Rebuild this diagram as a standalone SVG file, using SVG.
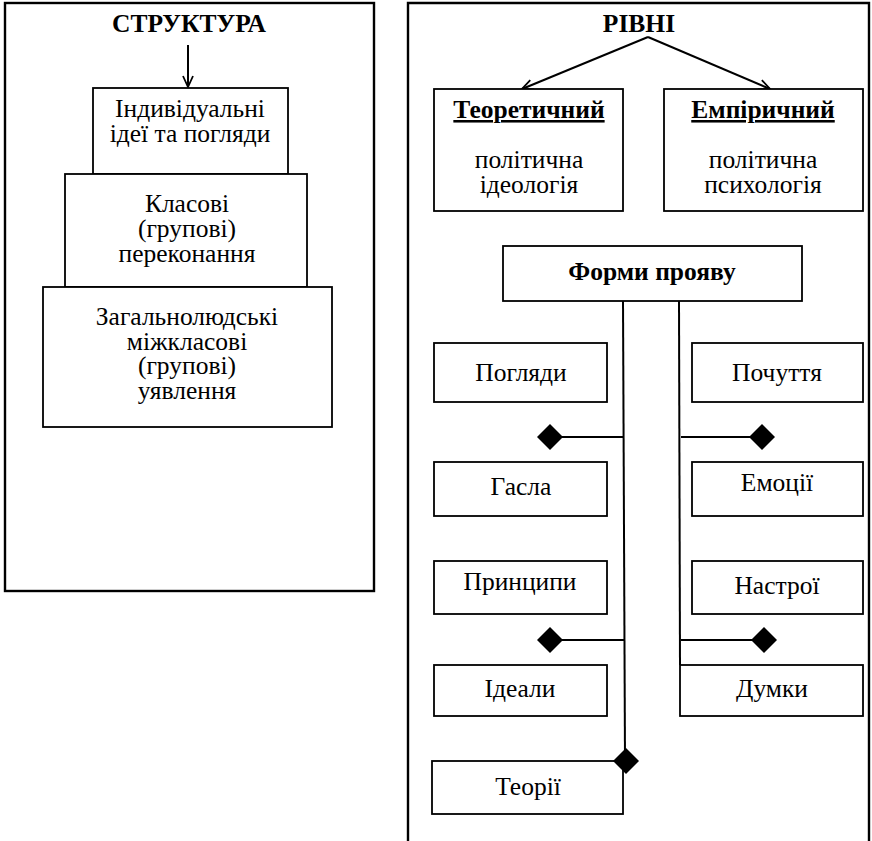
<svg xmlns="http://www.w3.org/2000/svg" width="872" height="841" viewBox="0 0 872 841">
<style>
.frame{fill:none;stroke:#000;stroke-width:2.4}
.box{fill:#fff;stroke:#000;stroke-width:1.8}
.ln{fill:none;stroke:#000;stroke-width:2}
.dia{fill:#000}
.bold{font-weight:bold}
</style>
<defs>
<marker id="arr" markerUnits="userSpaceOnUse" markerWidth="14" markerHeight="12" refX="12" refY="6" orient="auto">
<path d="M1,1 L12,6 L1,11" fill="none" stroke="#000" stroke-width="1.8"/>
</marker>
</defs>
<rect fill="#fff" x="0" y="0" width="872" height="841"/>

<g font-family="Liberation Serif, serif" font-size="25.5" text-anchor="middle" fill="#000">
<g id="frame-left">
<rect class="frame" x="5" y="3" width="369" height="588"/>
<text class="bold" x="189" y="32">СТРУКТУРА</text>
</g>
<g id="frame-right">
<path class="frame" d="M408,841 L408,3 L869,3 L869,841"/>
<text class="bold" x="639" y="32">РІВНІ</text>
</g>

<g id="connectors">
<line class="ln" x1="188" y1="45" x2="188" y2="87" marker-end="url(#arr)"/>
<line class="ln" x1="648" y1="37" x2="522" y2="89" marker-end="url(#arr)"/>
<line class="ln" x1="648" y1="37" x2="770" y2="89" marker-end="url(#arr)"/>
<line class="ln" x1="623" y1="301" x2="625" y2="761"/>
<line class="ln" x1="679" y1="301" x2="680" y2="665"/>
<line class="ln" x1="550" y1="437" x2="623" y2="437"/>
<line class="ln" x1="681" y1="437" x2="762" y2="437"/>
<line class="ln" x1="550" y1="640" x2="624" y2="640"/>
<line class="ln" x1="681" y1="640" x2="764" y2="640"/>
<path class="dia" d="M550,424 L563,437 L550,450 L537,437 Z"/>
<path class="dia" d="M762,424 L775,437 L762,450 L749,437 Z"/>
<path class="dia" d="M550,627 L563,640 L550,653 L537,640 Z"/>
<path class="dia" d="M764,627 L777,640 L764,653 L751,640 Z"/>
</g>

<g id="box-individual">
<rect class="box" x="93" y="88" width="195" height="86"/>
<text><tspan x="190" y="117">Індивідуальні</tspan><tspan x="190" y="142">ідеї та погляди</tspan></text>
</g>
<g id="box-class">
<rect class="box" x="65" y="174" width="242" height="113"/>
<text><tspan x="187" y="212">Класові</tspan><tspan x="187" y="237">(групові)</tspan><tspan x="187" y="262">переконання</tspan></text>
</g>
<g id="box-universal">
<rect class="box" x="43" y="287" width="289" height="140"/>
<text><tspan x="187" y="325">Загальнолюдські</tspan><tspan x="187" y="350">міжкласові</tspan><tspan x="187" y="374">(групові)</tspan><tspan x="187" y="399">уявлення</tspan></text>
</g>

<g id="box-theoretical">
<rect class="box" x="434" y="89" width="189" height="122"/>
<text class="bold" x="529" y="118" text-decoration="underline">Теоретичний</text>
<text><tspan x="529" y="168">політична</tspan><tspan x="529" y="193">ідеологія</tspan></text>
</g>
<g id="box-empirical">
<rect class="box" x="664" y="89" width="199" height="122"/>
<text class="bold" x="763" y="118" text-decoration="underline">Емпіричний</text>
<text><tspan x="763" y="168">політична</tspan><tspan x="763" y="193">психологія</tspan></text>
</g>
<g id="box-forms">
<rect class="box" x="503" y="246" width="299" height="55"/>
<text class="bold" x="652" y="280">Форми прояву</text>
</g>

<g id="box-poglyady">
<rect class="box" x="434" y="343" width="173" height="59"/>
<text x="521" y="381">Погляди</text>
</g>
<g id="box-pochuttya">
<rect class="box" x="692" y="343" width="171" height="59"/>
<text x="777" y="381">Почуття</text>
</g>
<g id="box-gasla">
<rect class="box" x="434" y="462" width="173" height="54"/>
<text x="521" y="495">Гасла</text>
</g>
<g id="box-emotsii">
<rect class="box" x="692" y="462" width="171" height="54"/>
<text x="777" y="491">Емоції</text>
</g>
<g id="box-pryntsypy">
<rect class="box" x="434" y="561" width="173" height="53"/>
<text x="520" y="590">Принципи</text>
</g>
<g id="box-nastroi">
<rect class="box" x="692" y="561" width="171" height="53"/>
<text x="777" y="594">Настрої</text>
</g>
<g id="box-idealy">
<rect class="box" x="434" y="665" width="173" height="51"/>
<text x="520" y="697">Ідеали</text>
</g>
<g id="box-dumky">
<rect class="box" x="680" y="665" width="183" height="51"/>
<text x="772" y="697">Думки</text>
</g>
<g id="box-teorii">
<rect class="box" x="432" y="761" width="191" height="53"/>
<text x="528" y="795">Теорії</text>
</g>
<path class="dia" d="M626,748 L639,761 L626,774 L613,761 Z"/>
</g>
</svg>
